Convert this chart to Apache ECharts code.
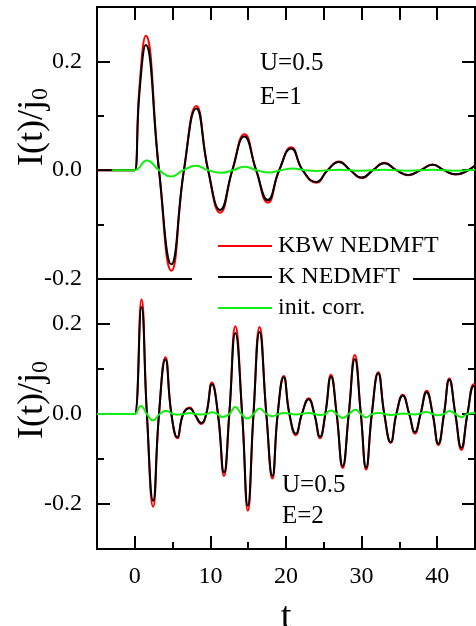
<!DOCTYPE html>
<html>
<head>
<meta charset="utf-8">
<script src="https://cdn.jsdelivr.net/npm/echarts@6/dist/echarts.min.js"></script>
<style>
html,body{margin:0;padding:0;background:#fff;}
#chart{width:476px;height:626px;}
</style>
</head>
<body>
<div id="chart"></div>
<script>
// ---- Data (t, I(t)/j0) ----
// Upper panel: U=0.5, E=1
const topT   = [-5, -0.3, 0, 0.6, 1.45, 3.2, 4.84, 6.5, 8.14, 9.7, 11.3, 12.9, 14.5, 16.05, 17.6, 19.1, 20.7, 22.2, 24.0, 25.5, 27.0, 28.5, 30.0, 31.5, 33.0, 34.6, 36.2, 37.8, 39.4, 40.9, 42.4, 45];
const topK   = [0, 0, 0, 0.140, 0.230, 0, -0.173, 0, 0.1136, 0, -0.073, 0, 0.062, 0, -0.055, 0, 0.040, 0, -0.0215, 0, 0.0150, 0, -0.0135, 0, 0.0130, 0, -0.0086, 0, 0.0098, 0, -0.0074, 0.0088];
const topKBW = [0, 0, 0, 0.150, 0.247, 0, -0.185, 0, 0.1180, 0, -0.078, 0, 0.066, 0, -0.0596, 0, 0.042, 0, -0.0230, 0, 0.0160, 0, -0.0145, 0, 0.0138, 0, -0.0092, 0, 0.0104, 0, -0.0080, 0.0093];
const topInitT = [-3, -0.3, 0, 1.6, 3.2, 4.8, 6.4, 8.1, 9.7, 11.4, 13.0, 14.5, 16.1, 17.8, 19.3, 20.9, 22.5, 24.0, 27.0, 30.0, 33.0, 36.0, 39.4, 42.4, 45];
const topInit  = [0, 0, 0, 0.018, 0, -0.0117, 0, 0.0080, 0, -0.0045, 0, 0.0065, 0, -0.0042, 0, 0.0030, 0, -0.0015, 0.0010, -0.0010, 0.0008, -0.0008, 0.0008, -0.0008, 0.0010];

// Lower panel: U=0.5, E=2
const botT   = [-5, -0.3, 0, 0.88, 1.6, 2.42, 3.2, 4.05, 4.84, 5.63, 6.4, 7.26, 7.9, 8.8, 9.45, 10.2, 11.0, 11.8, 12.5, 13.3, 14.2, 14.95, 15.7, 16.5, 17.4, 18.2, 18.9, 19.7, 20.45, 21.3, 22.1, 23.0, 23.75, 24.5, 25.2, 25.95, 26.7, 27.5, 28.3, 29.1, 29.9, 30.6, 31.35, 32.2, 33.0, 33.85, 34.6, 35.45, 36.3, 37.05, 37.8, 38.6, 39.4, 40.15, 40.9, 41.6, 42.4, 43.2, 44.0, 44.85, 45];
const botK   = [0, 0, 0, 0.238, 0, -0.193, 0, 0.121, 0, -0.0515, 0, 0.013, 0, -0.020, 0, 0.066, 0, -0.130, 0, 0.180, 0, -0.204, 0, 0.1825, 0, -0.1376, 0, 0.0817, 0, -0.044, 0, 0.033, 0, -0.0508, 0, 0.083, 0, -0.1155, 0, 0.1214, 0, -0.119, 0, 0.0905, 0, -0.0625, 0, 0.041, 0, -0.0405, 0, 0.0486, 0, -0.066, 0, 0.076, 0, -0.075, 0, 0.0625, 0.061];
const botKBW = [0, 0, 0, 0.2546, 0, -0.206, 0, 0.126, 0, -0.054, 0, 0.0147, 0, -0.022, 0, 0.070, 0, -0.1376, 0, 0.195, 0, -0.215, 0, 0.1935, 0, -0.1435, 0, 0.0846, 0, -0.047, 0, 0.035, 0, -0.0537, 0, 0.087, 0, -0.120, 0, 0.131, 0, -0.1236, 0, 0.0927, 0, -0.064, 0, 0.0427, 0, -0.0434, 0, 0.0515, 0, -0.069, 0, 0.079, 0, -0.080, 0, 0.066, 0.065];
const botInitT = [-5, -0.3, 0, 0.8, 1.6, 2.4, 3.3, 4.2, 5.0, 5.7, 6.5, 7.3, 8.0, 8.8, 9.5, 10.2, 10.9, 11.6, 12.5, 13.3, 14.1, 14.9, 15.7, 16.5, 17.4, 18.2, 19.0, 19.7, 21.3, 23.0, 24.5, 25.2, 25.9, 26.7, 27.5, 28.3, 29.2, 29.9, 30.6, 31.4, 32.2, 33.9, 35.5, 37.1, 38.6, 39.4, 40.1, 40.9, 41.6, 42.4, 43.2, 44.0, 45];
const botInit  = [0, 0, 0, 0.018, 0, -0.014, 0, 0.007, 0, -0.0015, 0, 0.002, 0, -0.001, 0, 0.004, 0, -0.0066, 0, 0.0155, 0, -0.010, 0, 0.0124, 0, -0.005, 0, 0.002, -0.001, 0.002, -0.002, 0, 0.008, 0, -0.009, 0, 0.0095, 0, -0.0075, 0, 0.002, -0.002, 0.001, -0.001, 0.0045, 0, -0.003, 0, 0.0066, 0, -0.007, 0, 0.002];

// Tick values / labels
const xMajorTicks = [0, 10, 20, 30, 40];
const xMinorTicks = [5, 15, 25, 35];
const yMajorTicks = [-0.2, 0, 0.2];
const yMinorTicks = [-0.1, 0.1];
const seriesNames = ['KBW NEDMFT', 'K NEDMFT', 'init. corr.'];
const panelNotes = [['U=0.5', 'E=1'], ['U=0.5', 'E=2']];
const yName = '{a|I(t)/j}{b|0}';
const xName = 't';

// ---- Chart ----
const FONT = "'Liberation Serif', 'Times New Roman', serif";
const pairs = (t, v) => t.map((x, i) => [x, v[i]]);
const yFmt = v => { const r = Math.round(v * 10); if (r % 2 !== 0) return ''; return (r / 10).toFixed(1); };

const chart = echarts.init(document.getElementById('chart'), null, {renderer: 'canvas'});

const grids = [
  {left: 97, top: 7, width: 378, height: 272, containLabel: false, outerBoundsMode: 'none'},
  {left: 97, top: 279, width: 378, height: 270, containLabel: false, outerBoundsMode: 'none'}
];

const axisLine = {show: true, onZero: false, lineStyle: {color: '#000', width: 2}};
const noTick = {show: false};
const noLabel = {show: false};

function xAxesFor(g, bottomLabels) {
  const base = {type: 'value', gridIndex: g, min: -5, max: 45, interval: 5, splitLine: {show: false}, axisLine: axisLine};
  const arr = [];
  if (bottomLabels) {
    arr.push(Object.assign({}, base, {
      position: 'bottom',
      axisTick: {show: true, inside: true, length: 13, customValues: xMajorTicks, lineStyle: {color: '#000', width: 2}},
      axisLabel: {show: true, color: '#000', fontFamily: FONT, fontSize: 24, margin: 16,
        formatter: v => (Math.round(v) % 10 === 0 && v >= 0 && v <= 40) ? String(Math.round(v)) : ''},
      name: xName, nameLocation: 'middle', nameGap: 50, nameMoveOverlap: false,
      nameTextStyle: {color: '#000', fontFamily: FONT, fontSize: 38}
    }));
    arr.push(Object.assign({}, base, {
      position: 'bottom',
      axisTick: {show: true, inside: true, length: 7, customValues: xMinorTicks, lineStyle: {color: '#000', width: 2}},
      axisLabel: noLabel
    }));
    arr.push(Object.assign({}, base, {position: 'top', axisTick: noTick, axisLabel: noLabel}));
  } else {
    arr.push(Object.assign({}, base, {position: 'bottom', axisTick: noTick, axisLabel: noLabel}));
    arr.push(Object.assign({}, base, {
      position: 'top',
      axisTick: {show: true, inside: true, length: 13, lineStyle: {color: '#000', width: 2}},
      axisLabel: noLabel
    }));
  }
  return arr;
}

function yAxesFor(g, min, max, shift) {
  const base = {type: 'value', gridIndex: g, min: min, max: max, interval: 0.1, splitLine: {show: false}, axisLine: axisLine};
  return [
    Object.assign({}, base, {
      position: 'left',
      axisTick: {show: true, inside: true, length: 13, customValues: yMajorTicks, lineStyle: {color: '#000', width: 2}},
      axisLabel: {show: true, color: '#000', fontFamily: FONT, fontSize: 24, margin: 15, formatter: yFmt, showMinLabel: true, showMaxLabel: true},
      name: yName, nameLocation: 'middle', nameGap: 44, nameMoveOverlap: false,
      nameTextStyle: {color: '#000', fontFamily: FONT, fontSize: 36, padding: [0, 0, 0, shift],
        rich: {a: {fontFamily: FONT, fontSize: 36, color: '#000', lineHeight: 40},
               b: {fontFamily: FONT, fontSize: 24, color: '#000', verticalAlign: 'bottom', lineHeight: 40}}}
    }),
    Object.assign({}, base, {
      position: 'left',
      axisTick: {show: true, inside: true, length: 7, customValues: yMinorTicks, lineStyle: {color: '#000', width: 2}},
      axisLabel: noLabel
    }),
    Object.assign({}, base, {
      position: 'right',
      axisTick: {show: true, inside: true, length: 13, customValues: yMajorTicks, lineStyle: {color: '#000', width: 2}},
      axisLabel: noLabel
    }),
    Object.assign({}, base, {
      position: 'right',
      axisTick: {show: true, inside: true, length: 7, customValues: yMinorTicks, lineStyle: {color: '#000', width: 2}},
      axisLabel: noLabel
    })
  ];
}

const xAxes = xAxesFor(0, false).concat(xAxesFor(1, true)); // top: 0,1 ; bottom: 2,3,4
const yAxes = yAxesFor(0, -0.2, 0.3, 32).concat(yAxesFor(1, -0.3, 0.3, 28)); // top: 0..3 ; bottom: 4..7

const colors = {'KBW NEDMFT': '#ff0000', 'K NEDMFT': '#000000', 'init. corr.': '#11ee11'};
function line(name, data, xi, yi) {
  return {
    type: 'line', name: name, data: data, xAxisIndex: xi, yAxisIndex: yi,
    smooth: 0.5, showSymbol: false, symbol: 'none', animation: false,
    lineStyle: {color: colors[name], width: 2}, itemStyle: {color: colors[name]},
    emphasis: {disabled: true}, silent: true
  };
}

const series = [
  line(seriesNames[0], pairs(topT, topKBW), 0, 0),
  line(seriesNames[1], pairs(topT, topK), 0, 0),
  line(seriesNames[2], pairs(topInitT, topInit), 0, 0),
  line(seriesNames[0], pairs(botT, botKBW), 2, 4),
  line(seriesNames[1], pairs(botT, botK), 2, 4),
  line(seriesNames[2], pairs(botInitT, botInit), 2, 4)
];

const textStyle = {fill: '#000', font: "25px " + FONT, verticalAlign: 'middle', align: 'left'};

chart.setOption({
  animation: false,
  backgroundColor: '#fff',
  grid: grids,
  xAxis: xAxes,
  yAxis: yAxes,
  legend: {
    data: seriesNames, orient: 'vertical', left: 218, top: 234, z: 200,
    icon: 'rect', itemWidth: 54, itemHeight: 2, itemGap: 7,
    selectedMode: false, padding: 0,
    textStyle: {color: '#000', fontFamily: FONT, fontSize: 24, padding: [0, 0, 0, 1]}
  },
  graphic: [
    {type: 'rect', z: 100, silent: true, shape: {x: 192, y: 275, width: 221, height: 8}, style: {fill: '#fff'}},
    {type: 'text', z: 100, left: 260, top: 51, style: Object.assign({text: panelNotes[0][0]}, textStyle)},
    {type: 'text', z: 100, left: 260, top: 85, style: Object.assign({text: panelNotes[0][1]}, textStyle)},
    {type: 'text', z: 100, left: 282, top: 473, style: Object.assign({text: panelNotes[1][0]}, textStyle)},
    {type: 'text', z: 100, left: 282, top: 504, style: Object.assign({text: panelNotes[1][1]}, textStyle)}
  ],
  series: series
});
</script>
</body>
</html>
